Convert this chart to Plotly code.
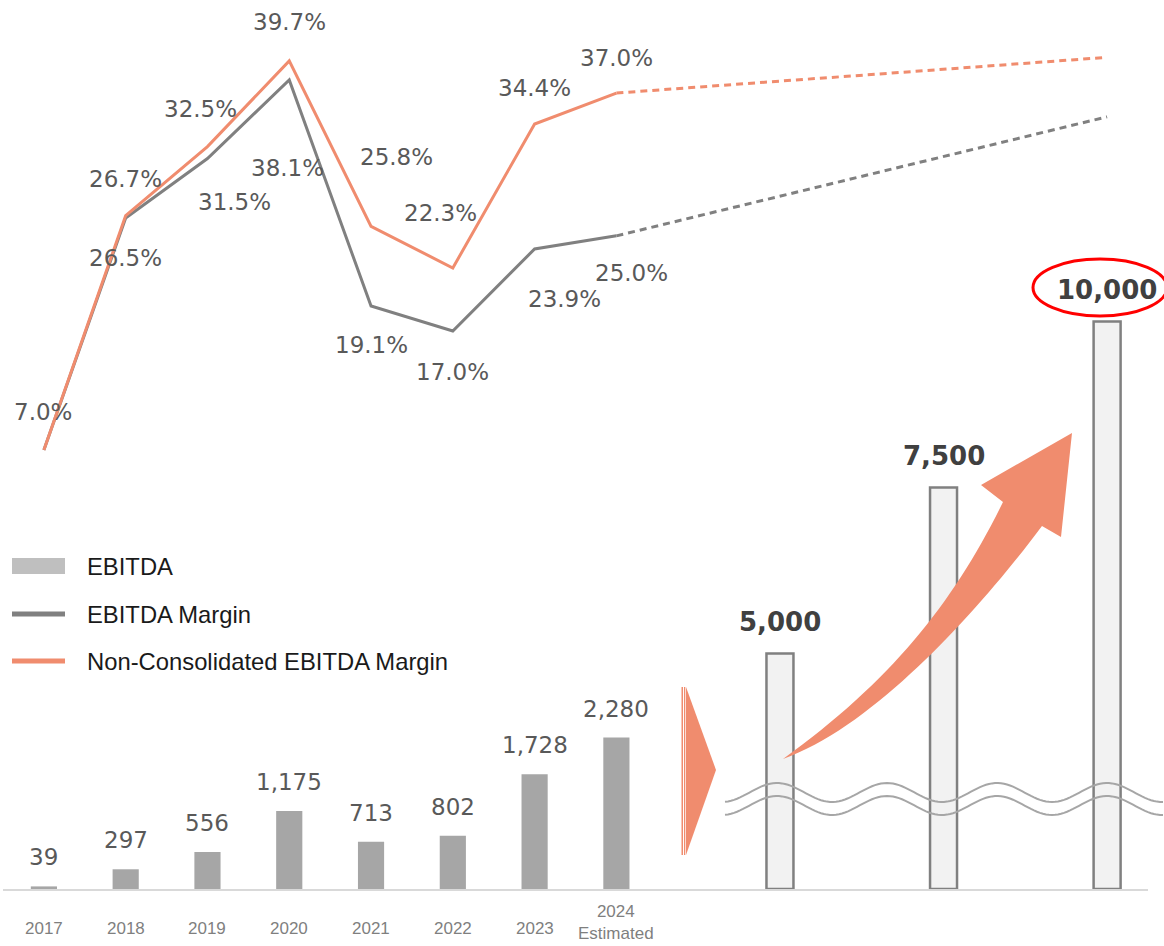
import math
import plotly.graph_objects as go

# ---- data ----
years = ["2017", "2018", "2019", "2020", "2021", "2022", "2023", "2024<br>Estimated"]
ebitda = [39, 297, 556, 1175, 713, 802, 1728, 2280]
ebitda_margin = [7.0, 26.5, 31.5, 38.1, 19.1, 17.0, 23.9, 25.0]
nc_margin = [7.0, 26.7, 32.5, 39.7, 25.8, 22.3, 34.4, 37.0]

target_ebitda = [5000, 7500, 10000]
target_ebitda_margin = 35.0
target_nc_margin = 40.0

# ---- layout constants ----
W, H = 1164, 946
ML, MR, MT, MB = 3, 16, 5, 57
PW, PH = W - ML - MR, H - MT - MB
target_slots = [9, 11, 13]          # x slots of the target bars (gap = broken period)
hist_x = list(range(len(years)))
BREAK = 1455                        # value hidden by the axis break for target bars
BAR_MAX = 13313
MARGIN_RANGE = [-29.89, 44.40]

ORANGE = "#F08C6E"
GREY_LINE = "#808080"
BAR_GREY = "#A6A6A6"
TXT = "#595959"


def px(x, y):
    """pixel -> paper coordinates"""
    return (x - ML) / PW, (H - MB - y) / PH


def pt(x, y):
    a, b = px(x, y)
    return f"{a:.5f},{b:.5f}"


fig = go.Figure()

# historical EBITDA bars
fig.add_trace(go.Bar(x=hist_x, y=ebitda, width=0.32, marker_color=BAR_GREY,
                     marker_line_width=0, yaxis="y", showlegend=False,
                     hoverinfo="skip"))
# target EBITDA bars on the broken scale
fig.add_trace(go.Bar(x=target_slots, y=[v - BREAK for v in target_ebitda], base=BREAK,
                     width=0.33, marker=dict(color="#F2F2F2",
                                             line=dict(color="#808080", width=2.5)),
                     yaxis="y3", showlegend=False, hoverinfo="skip"))

# margin lines: actuals solid, outlook dashed
fig.add_trace(go.Scatter(x=hist_x, y=ebitda_margin, mode="lines", yaxis="y2",
                         line=dict(color=GREY_LINE, width=3), showlegend=False))
fig.add_trace(go.Scatter(x=[hist_x[-1], target_slots[-1]],
                         y=[ebitda_margin[-1], target_ebitda_margin], mode="lines",
                         yaxis="y2", line=dict(color=GREY_LINE, width=3, dash="7px,5px"),
                         showlegend=False))
fig.add_trace(go.Scatter(x=hist_x, y=nc_margin, mode="lines", yaxis="y2",
                         line=dict(color=ORANGE, width=3), showlegend=False))
fig.add_trace(go.Scatter(x=[hist_x[-1], target_slots[-1]],
                         y=[nc_margin[-1], target_nc_margin], mode="lines",
                         yaxis="y2", line=dict(color=ORANGE, width=3, dash="7px,5px"),
                         showlegend=False))

annotations = []
pct_font = dict(family="DejaVu Sans", size=23, color=TXT)

# label offsets in pixels (dx, dy upward)
nc_offsets = [(-1, 38), (0, 37), (-7, 38), (0, 39), (25, 69), (-12, 55), (0, 36), (0, 35)]
em_offsets = [None, (0, -40), (27, -43), (-2, -88), (0, -39), (0, -41), (30, -50), (15, -37)]

for i, v in enumerate(nc_margin):
    dx, dy = nc_offsets[i]
    annotations.append(dict(x=hist_x[i], y=v, xref="x", yref="y2", text=f"{v:.1f}%",
                            showarrow=False, xshift=dx, yshift=dy, font=pct_font))
for i, v in enumerate(ebitda_margin):
    if em_offsets[i] is None:
        continue
    dx, dy = em_offsets[i]
    annotations.append(dict(x=hist_x[i], y=v, xref="x", yref="y2", text=f"{v:.1f}%",
                            showarrow=False, xshift=dx, yshift=dy, font=pct_font))

# bar value labels
for i, v in enumerate(ebitda):
    annotations.append(dict(x=hist_x[i], y=v, xref="x", yref="y", text=f"{v:,}",
                            showarrow=False, yshift=29, font=pct_font))
for s, v in zip(target_slots, target_ebitda):
    annotations.append(dict(x=s, y=v, xref="x", yref="y3", text=f"<b>{v:,}</b>",
                            showarrow=False, yshift=32,
                            font=dict(family="DejaVu Sans", size=26, color="#404040")))

# year labels (two-line label sits flush with the bottom edge)
year_font = dict(family="Liberation Sans, Arial", size=17, color="#7F7F7F")
for i, t in enumerate(years):
    if "<br>" in t:
        annotations.append(dict(x=hist_x[i], y=0, xref="x", yref="paper", text=t,
                                showarrow=False, yshift=-55, yanchor="bottom",
                                borderpad=0, font=year_font))
    else:
        annotations.append(dict(x=hist_x[i], y=0, xref="x", yref="paper", text=t,
                                showarrow=False, yshift=-39, yanchor="middle",
                                font=year_font))

# legend
legend_items = [("EBITDA", "bar", "#BFBFBF", 566), ("EBITDA Margin", "line", GREY_LINE, 614),
                ("Non-Consolidated EBITDA Margin", "line", ORANGE, 661)]
shapes = []
for name, kind, col, yc in legend_items:
    x0, y0 = px(12, yc - 8 if kind == "bar" else yc - 2.5)
    x1, y1 = px(65, yc + 8 if kind == "bar" else yc + 2.5)
    shapes.append(dict(type="rect", xref="paper", yref="paper", x0=x0, x1=x1, y0=y0, y1=y1,
                       fillcolor=col, line_width=0))
    tx, ty = px(85, yc)
    annotations.append(dict(x=tx, y=ty, xref="paper", yref="paper", text=name,
                            showarrow=False, xanchor="left", yanchor="middle",
                            font=dict(family="Liberation Sans, Arial", size=23.8,
                                      color="#1A1A1A")))

# highlight ellipse around the final target
ex0, ey0 = px(1033, 316)
ex1, ey1 = px(1167, 259)
shapes.append(dict(type="circle", xref="paper", yref="paper", x0=ex0, x1=ex1, y0=ey0, y1=ey1,
                   line=dict(color="#FF0000", width=3)))

# chevron pointing into the target period
shapes.append(dict(type="path", xref="paper", yref="paper", line_width=0, fillcolor=ORANGE,
                   path=f"M {pt(686, 687)} L {pt(716, 770)} L {pt(686, 855)} Z"))
for xa, xb in [(681.5, 683), (684, 685.3)]:
    a0, b0 = px(xa, 855)
    a1, b1 = px(xb, 687)
    shapes.append(dict(type="rect", xref="paper", yref="paper", x0=a0, x1=a1, y0=b0, y1=b1,
                       fillcolor=ORANGE, line_width=0))

# curved growth arrow
arrow_path = (f"M {pt(783, 759)} C {pt(893, 680)} {pt(955, 600)} {pt(1003, 502)} "
              f"L {pt(981, 485)} L {pt(1072, 433)} L {pt(1061, 537)} L {pt(1042, 526)} "
              f"C {pt(990, 596)} {pt(880, 725)} {pt(783, 759)} Z")
shapes.append(dict(type="path", xref="paper", yref="paper", line_width=0, fillcolor=ORANGE,
                   path=arrow_path))

# axis-break waves
for yc in (792.5, 805.5):
    pts = []
    x = 725.0
    while x <= 1164:
        pts.append(pt(x, yc - 9.5 * math.cos(2 * math.pi * (x - 777) / 110)))
        x += 3
    shapes.append(dict(type="path", xref="paper", yref="paper",
                       line=dict(color="#A6A6A6", width=2),
                       path="M " + " L ".join(pts)))

fig.update_layout(
    width=W, height=H,
    margin=dict(l=ML, r=MR, t=MT, b=MB, autoexpand=False),
    paper_bgcolor="white", plot_bgcolor="white",
    barmode="overlay",
    xaxis=dict(range=[-0.5, 13.5], showgrid=False, zeroline=False, showticklabels=False,
               ticks="", showline=True, linecolor="#D9D9D9", linewidth=2, fixedrange=True),
    yaxis=dict(range=[0, BAR_MAX], visible=False, fixedrange=True),
    yaxis2=dict(range=MARGIN_RANGE, overlaying="y", visible=False, fixedrange=True),
    yaxis3=dict(range=[BREAK, BREAK + BAR_MAX], overlaying="y", visible=False,
                fixedrange=True),
    annotations=annotations,
    shapes=shapes,
    showlegend=False,
)

fig.write_html("out.html")
